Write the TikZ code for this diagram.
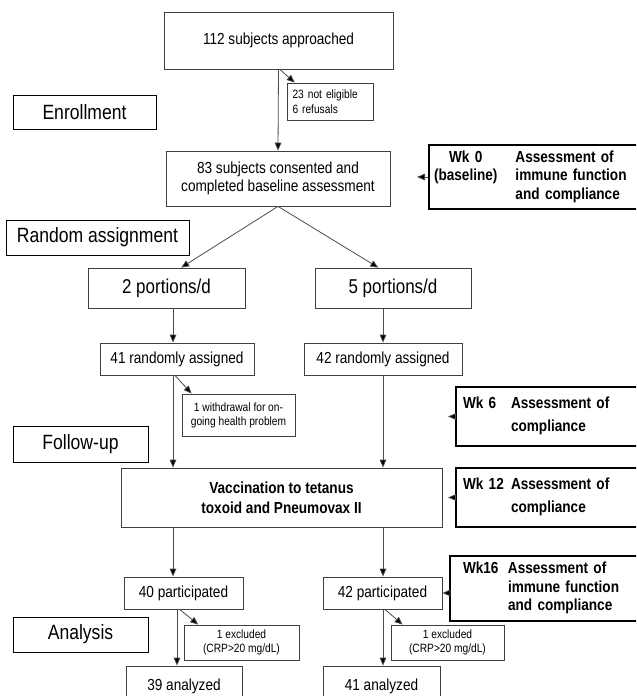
\documentclass[tikz,border=0pt]{standalone}
\usepackage{fontspec}
\setmainfont{Liberation Sans}[FakeStretch=0.85]
\usetikzlibrary{arrows.meta}

\tikzset{every picture/.style={line width=0.75pt}}
\tikzset{
  size/.style 2 args={minimum width=#1*0.75pt, minimum height=#2*0.75pt},
  box/.style={draw=black!75, line width=0.6pt, inner sep=2pt, align=center, font=\fontsize{12}{14}\selectfont},
  portion/.style={box, font=\fontsize{15}{18}\selectfont},
  note/.style={draw=black!75, line width=0.6pt, inner sep=2pt, align=center, font=\fontsize{9}{11}\selectfont},
  stage/.style={draw=black, line width=0.75pt, inner sep=2pt, font=\fontsize{15.5}{18}\selectfont},
  wkbox/.style={draw=black, line width=1.5pt, anchor=west, align=left, text width=200pt, font=\bfseries\fontsize{12}{14}\selectfont},
  flow/.style={draw=black!70, line width=0.6pt, -{Triangle[length=6pt,width=5pt,fill=black]}},
}

\begin{document}
\begin{tikzpicture}[x=0.75pt,y=0.75pt,yscale=-1,xscale=1]
\clip (0,0) rectangle (636,696);

% Column lines
\coordinate (colL) at (173,0);
\coordinate (colL2) at (177,0);
\coordinate (colR) at (383,0);

% Stage Nodes
\node [stage, size={143}{34}] (enroll) at (84.5,112) {Enrollment};
\node [stage, size={183}{35}] (random) at (97.5,237.5) {Random assignment};
\node [stage, size={135}{36}] (follow) at (80.5,444) {Follow-up};
\node [stage, size={135}{35}] (analysis) at (80.5,634.5) {Analysis};

% Text Node
\node [box, size={229}{57}] (app) at (278.5,40.5) {112 subjects approached};
% Text Node
\node [note, size={0}{37}, text width=57pt, inner xsep=4pt, align=left] (notelig) at (330.5,101.5) {23 not eligible\\6 refusals};
% Text Node
\node [box, size={224}{55}] (cons) at (278,178.5) {83 subjects consented and\\completed baseline assessment};
% Text Node
\node [portion, size={157}{40}] (two) at (166.5,288) {2 portions/d};
% Text Node
\node [portion, size={156}{40}] (five) at (393,288) {5 portions/d};
% Text Node
\node [box, size={154}{32}] (rand41) at (177,359) {41 randomly assigned};
% Text Node
\node [box, size={158}{32}] (rand42) at (383,359) {42 randomly assigned};
% Text Node
\node [note, size={113}{42}, font=\fontsize{9}{10.5}\selectfont] (withdraw) at (238.5,415) {1 withdrawal for on-\\going health problem};
% Text Node
\node [box, size={321}{59}, font=\bfseries\fontsize{12}{15}\selectfont] (vacc) at (281.5,497.5) {Vaccination to tetanus\\toxoid and Pneumovax II};
% Text Node
\node [box, size={119}{32}] (part40) at (183.5,593) {40 participated};
% Text Node
\node [box, size={119}{32}] (part42) at (382.5,593) {42 participated};
% Text Node
\node [note, size={115}{35}] (excl1) at (241.5,642.5) {1 excluded\\(CRP>20 mg/dL)};
% Text Node
\node [note, size={113}{35}] (excl2) at (447.5,642.5) {1 excluded\\(CRP>20 mg/dL)};
% Text Node
\node [box, size={116}{40}] (an39) at (184,686) {39 analyzed};
% Text Node
\node [box, size={117}{40}] (an41) at (381.5,686) {41 analyzed};

% Week Nodes
\node [wkbox, size={0}{62}, inner xsep=3.75pt] (wk0) at (428,177)
  {\begin{tabular}{@{}c@{\hspace{13.5pt}}l@{}}Wk 0 & Assessment of\\(baseline) & immune function\\ & and compliance\end{tabular}};
\node [wkbox, size={0}{59}, inner xsep=5.25pt] (wk6) at (455,416.5)
  {\begin{tabular}{@{}p{36pt}@{}l@{}}Wk 6 & Assessment of\\[3pt] & compliance\end{tabular}};
\node [wkbox, size={0}{59}, inner xsep=5.25pt] (wk12) at (455,497.5)
  {\begin{tabular}{@{}p{36pt}@{}l@{}}Wk 12 & Assessment of\\[3pt] & compliance\end{tabular}};
\node [wkbox, size={0}{59}, inner xsep=9.75pt] (wk16) at (449,588.5)
  {\begin{tabular}{@{}p{33.75pt}@{}l@{}}Wk16 & Assessment of\\ & immune function\\ & and compliance\end{tabular}};

%Straight Lines
\draw [flow] (app.south) -- (cons.north);
\draw [flow] ([xshift=1pt]app.south) -- ([xshift=6pt]notelig.north west);
\draw [flow] (cons.south) -- ([xshift=11pt]two.north);
\draw [flow] (cons.south) -- ([xshift=-11pt]five.north);
\draw [flow] (two.south -| colL) -- (rand41.north -| colL);
\draw [flow] (five.south -| colR) -- (rand42.north -| colR);
\draw [flow] (rand41.south -| colL) -- (vacc.north -| colL);
\draw [flow] ([xshift=1.5pt]rand41.south -| colL) -- ([xshift=7.5pt]withdraw.north west);
\draw [flow] (rand42.south -| colR) -- (vacc.north -| colR);
\draw [flow] (vacc.south -| colL) -- (part40.north -| colL);
\draw [flow] (vacc.south -| colR) -- (part42.north -| colR);
\draw [flow] (part40.south -| colL2) -- (an39.north -| colL2);
\draw [flow] ([xshift=2pt]part40.south -| colL2) -- ([xshift=11pt]excl1.north west);
\draw [flow] (part42.south -| colR) -- (an41.north -| colR);
\draw [flow] ([xshift=1.5pt]part42.south -| colR) -- ([xshift=9pt]excl2.north west);

% Week arrows
\draw [flow] (wk0.west) -- ++(-11,0);
\draw [flow] (wk6.west) -- ++(-7,0);
\draw [flow] (wk12.west) -- ++(-7,0);
\draw [flow] (wk16.west |- part42.east) -- (part42.east);

\end{tikzpicture}
\end{document}
